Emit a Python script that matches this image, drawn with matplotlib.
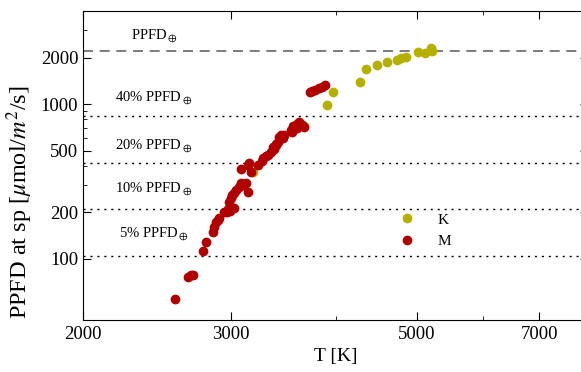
import matplotlib
matplotlib.use('Agg')
import matplotlib.pyplot as plt

plt.rcParams['font.family'] = ['Liberation Serif', 'DejaVu Serif']
plt.rcParams['mathtext.fontset'] = 'stix'

# K stars
k_teff = [3192, 3664, 3904, 3970, 4278, 4350, 4484, 4610, 4738, 4790, 4856,
          5020, 5118, 5204, 5218]
k_ppfd = [364, 721, 985, 1195, 1387, 1682, 1785, 1866, 1922, 1981, 2010,
          2165, 2150, 2298, 2198]

# M stars
m_teff = [2572, 2666, 2688, 2703, 2778, 2802, 2856, 2864, 2880, 2896, 2905,
          2946, 2970, 2978, 2994, 3028, 2986, 3002, 3010, 3028, 3044, 3070,
          3086, 3104, 3130, 3148, 3086, 3156, 3148, 3175, 3236, 3265, 3280,
          3305, 3326, 3350, 3372, 3395, 3420, 3380, 3400, 3430, 3448, 3476,
          3460, 3544, 3560, 3594, 3620, 3644, 3600, 3664, 3550, 3726, 3745,
          3778, 3820, 3850, 3884]
m_ppfd = [54.4, 75.4, 78.8, 77.7, 112.6, 128.7, 149.3, 160.8, 173.3, 178.5,
          183, 201, 200, 208, 204, 213, 233, 247, 256, 267, 279, 291, 306,
          300, 309, 271, 381, 416, 404, 364, 404, 430, 448, 460, 469, 490,
          528, 545, 569, 510, 550, 610, 631, 631, 600, 680, 720, 740, 770,
          735, 700, 712, 660, 1195, 1210, 1231, 1268, 1290, 1326]

# reference PPFD levels
ppfd_sun = 2190
frac_levels = [837, 418, 209, 104.6]
frac_names = ['40% PPFD$_\\oplus$', '20% PPFD$_\\oplus$', '10% PPFD$_\\oplus$', '5% PPFD$_\\oplus$']

fig = plt.figure(figsize=(5.81, 3.72), dpi=100)
ax = fig.add_axes([83 / 581, 52 / 372, 505 / 581, 309 / 372])
ax.set_xscale('log')
ax.set_yscale('log')

ax.axhline(ppfd_sun, color='#666666', linestyle=(0, (6, 4)), linewidth=1.2)
for lev in frac_levels:
    ax.axhline(lev, color='black', linestyle=(0, (1.5, 3.5)), linewidth=1.0)

# label offsets above each line, in points
ax.annotate('PPFD$_\\oplus$', (2430, ppfd_sun), xytext=(0, 5), textcoords='offset points',
            ha='center', va='bottom', fontsize=10.5)
for lev, name, dy in zip(frac_levels, frac_names, [7, 6, 9, 10]):
    ax.annotate(name, (2430, lev), xytext=(0, dy), textcoords='offset points',
                ha='center', va='bottom', fontsize=10.5)

ax.plot(k_teff, k_ppfd, 'o', color='#b5b000', markersize=6, linestyle='none', label='K')
ax.plot(m_teff, m_ppfd, 'o', color='#b00000', markersize=6, linestyle='none', label='M')

ax.set_xlim(2000, 8000)
ax.set_ylim(40, 4000)

ax.set_xticks([2000, 3000, 5000, 7000])
ax.set_xticklabels(['2000', '3000', '5000', '7000'])
ax.set_xticks([4000, 6000], minor=True)
ax.set_xticklabels([], minor=True)
ax.set_yticks([100, 200, 500, 1000, 2000])
ax.set_yticklabels(['100', '200', '500', '1000', '2000'])
ax.set_yticks([300, 400, 600, 700, 800, 900, 3000], minor=True)
ax.set_yticklabels([], minor=True)

ax.tick_params(which='both', direction='in', top=True, right=True, labelsize=13.5)
ax.tick_params(which='major', length=6, width=0.8)
ax.tick_params(which='minor', length=3, width=0.6, right=False)
ax.tick_params(axis='x', pad=4)

ax.set_xlabel('T [K]', fontsize=14)
ax.set_ylabel('PPFD at sp [$\\mu$mol/$m^2$/s]', fontsize=17.5)
ax.yaxis.set_label_coords(-0.095, 0.38)

ax.legend(loc='center left', bbox_to_anchor=(0.585, 0.29), frameon=False,
          numpoints=1, handletextpad=1.0, fontsize=11)

fig.savefig('out.png', dpi=100)
